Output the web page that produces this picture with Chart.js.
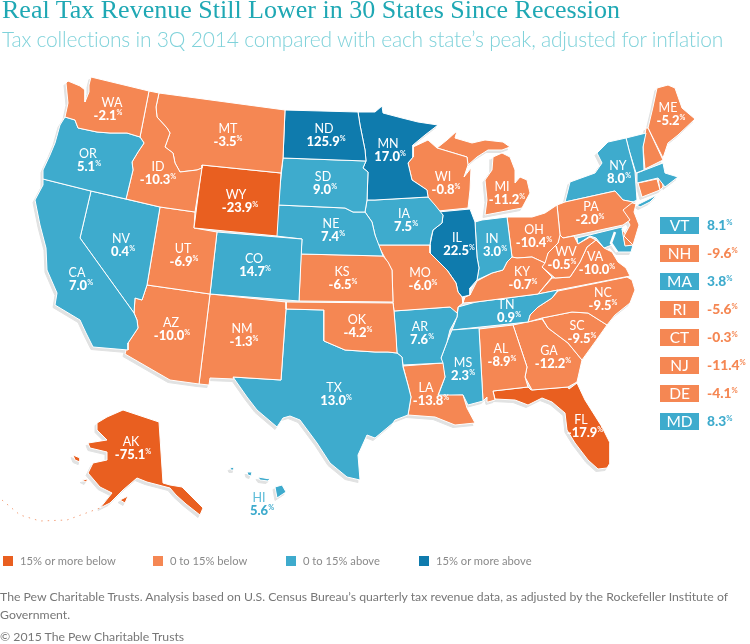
<!DOCTYPE html>
<html>
<head>
<meta charset="utf-8">
<script src="https://cdn.jsdelivr.net/npm/chart.js@4"></script>
<style>
    html, body { margin: 0; padding: 0; background: #fff; }
    #page { position: relative; width: 750px; height: 644px; overflow: hidden; }
    #map { position: absolute; left: 0; top: 0; }
    .txt { position: absolute; white-space: nowrap; font-family: Lato, sans-serif; }
    #title { left: 2px; top: -5px; font-family: "Liberation Serif", serif; font-size: 26px; color: #1fa8b4; }
    #subtitle { left: 2px; top: 26px; font-family: Lato, sans-serif; font-weight: 300; font-size: 21px; letter-spacing: -0.2px; color: #7fd2da; }
    .key { top: 554px; font-size: 11.2px; color: #8a8a8a; }
    .swatch { position: absolute; top: 556px; width: 10px; height: 10px; }
    .note { left: 0; font-size: 12.25px; color: #777; }
</style>
</head>
<body>
<div id="page">
    <canvas id="map" width="750" height="644"></canvas>
    <div class="txt" id="title">Real Tax Revenue Still Lower in 30 States Since Recession</div>
    <div class="txt" id="subtitle">Tax collections in 3Q 2014 compared with each state’s peak, adjusted for inflation</div>
    <div id="keys"></div>
    <div class="txt note" style="top:589px">The Pew Charitable Trusts. Analysis based on U.S. Census Bureau’s quarterly tax revenue data, as adjusted by the Rockefeller Institute of</div>
    <div class="txt note" style="top:607px">Government.</div>
    <div class="txt note" style="top:629px">© 2015 The Pew Charitable Trusts</div>
</div>
<script>
// ============================================================
// Data
// ============================================================
const stateCodes = ['WA','OR','CA','ID','NV','MT','WY','UT','AZ','CO','NM','ND','SD','NE','KS','OK','TX','MN','IA','MO','AR','LA','WI','IL','MS','MI','IN','KY','TN','AL','OH','WV','VA','NC','SC','GA','FL','PA','NY','ME','AK','HI'];
const stateValues = ['-2.1','5.1','7.0','-10.3','0.4','-3.5','-23.9','-6.9','-10.0','14.7','-1.3','125.9','9.0','7.4','-6.5','-4.2','13.0','17.0','7.5','-6.0','7.6','-13.8','-0.8','22.5','2.3','-11.2','3.0','-0.7','0.9','-8.9','-10.4','-0.5','-10.0','-9.5','-9.5','-12.2','-17.9','-2.0','8.0','-5.2','-75.1','5.6'];

const smallCodes = ['VT','NH','MA','RI','CT','NJ','DE','MD'];
const smallValues = ['8.1','-9.6','3.8','-5.6','-0.3','-11.4','-4.1','8.3'];

const keyLabels = ['15% or more below','0 to 15% below','0 to 15% above','15% or more above'];
const keyColors = ['#e95f20','#f58753','#3eabcd','#0f7bad'];

// where each state's code sits on the map
const labelSpots = {
    WA:[112,103], OR:[88,154], CA:[77,273], ID:[158,167], NV:[121,239], MT:[228,129], WY:[236,195], UT:[183,249],
    AZ:[171,323], CO:[254,259], NM:[242,329], ND:[324,129], SD:[323,177], NE:[331,224], KS:[342,272], OK:[357,320],
    TX:[334,388], MN:[388,144], IA:[404,214], MO:[420,273], AR:[420,327], LA:[426,388], WI:[443,177], IL:[457,238],
    MS:[463,363], MI:[502,187], IN:[492,239], KY:[522,272], TN:[506,305], AL:[501,349], OH:[534,230], WV:[566,252],
    VA:[595,257], NC:[603,293], SC:[577,326], GA:[549,351], FL:[581,420], PA:[591,207], NY:[618,166], ME:[668,108],
    AK:[131,442], HI:[259,498]
};
// value centre, along x
const valueSpotX = {
    WA:108, OR:89, CA:81, ID:158, NV:123, MT:228, WY:240, UT:184, AZ:172, CO:255, NM:244, ND:326, SD:325, NE:333, KS:343, OK:358,
    TX:336, MN:390, IA:406, MO:423, AR:422, LA:431, WI:446, IL:459, MS:463, MI:507, IN:495, KY:523, TN:509, AL:502, OH:534, WV:562,
    VA:597, NC:603, SC:582, GA:553, FL:585, PA:590, NY:619, ME:671, AK:133, HI:262
};

// state outlines, in map units
const WA = [[91,77],[149,91],[140,137],[127,133],[110,133],[97,132],[78,128],[75,120],[65,117],[68,103],[66,83],[68,81],[80,86],[85,90],[85,102],[89,92],[89,85]];
const OR = [[65,117],[75,120],[78,128],[97,132],[110,133],[127,133],[140,137],[144,143],[138,152],[132,162],[133,170],[126,199],[91,191],[43,179],[43,170],[50,155],[55,143],[60,125]];
const CA = [[43,179],[91,191],[80,238],[134,313],[137,320],[138,328],[128,343],[128,350],[93,347],[86,333],[80,320],[55,305],[57,293],[47,270],[46,248],[40,225],[35,200],[43,185]];
const ID = [[149,91],[159,93],[156,107],[157,117],[167,128],[170,133],[165,147],[173,153],[175,163],[180,172],[197,170],[202,168],[195,212],[160,207],[126,199],[133,170],[132,162],[138,152],[144,143],[140,137]];
const NV = [[91,191],[160,207],[147,285],[142,300],[135,298],[134,313],[80,238]];
const MT = [[159,93],[285,110],[283,158],[281,173],[202,165],[202,168],[197,170],[180,172],[175,163],[173,153],[165,147],[170,133],[167,128],[157,117],[156,107]];
const WY = [[202,165],[281,173],[277,236],[194,228]];
const UT = [[160,207],[195,212],[194,228],[217,232],[210,294],[147,285]];
const AZ = [[147,285],[210,294],[199,384],[170,380],[125,354],[128,343],[138,328],[137,320],[134,313],[135,298],[142,300]];
const CO = [[217,232],[302,239],[299,301],[210,294]];
const NM = [[210,294],[286,302],[286,309],[281,380],[233,377],[234,379],[210,378],[209,385],[199,384]];
const ND = [[285,110],[358,112],[360,125],[365,150],[366,161],[283,158]];
const SD = [[283,158],[366,161],[363,168],[368,172],[367,200],[365,212],[353,212],[345,208],[278,205]];
const NE = [[278,205],[345,208],[353,212],[365,212],[372,222],[375,235],[380,248],[383,256],[301,254],[302,239],[276,236]];
const KS = [[301,254],[383,256],[388,262],[392,270],[393,302],[299,301]];
const OK = [[286,302],[393,303],[394,311],[396,335],[397,353],[388,352],[375,352],[345,350],[324,341],[324,310],[286,309]];
const TX = [[286,309],[324,310],[324,341],[345,350],[375,352],[388,352],[397,353],[402,357],[403,367],[408,385],[411,397],[408,415],[395,420],[393,423],[375,438],[367,435],[358,455],[360,480],[347,477],[330,463],[317,443],[300,420],[290,416],[283,418],[277,427],[257,410],[247,397],[233,377],[281,380]];
const MN = [[358,112],[375,112],[382,106],[383,113],[402,118],[418,122],[438,125],[425,135],[413,145],[413,157],[408,163],[412,180],[427,190],[428,197],[375,200],[367,200],[368,172],[363,168],[366,161],[365,150],[360,125]];
const IA = [[367,200],[375,200],[428,197],[435,205],[443,215],[442,223],[433,230],[431,238],[430,245],[378,245],[375,235],[372,222],[365,212]];
const MO = [[378,245],[430,245],[430,253],[447,270],[456,283],[458,292],[462,297],[463,303],[458,307],[457,313],[450,307],[394,311],[393,302],[392,270],[385,258]];
const AR = [[394,311],[450,307],[458,308],[457,317],[450,330],[447,342],[441,358],[443,363],[403,365],[402,357],[397,353]];
const LA = [[403,366],[443,363],[445,377],[438,395],[463,395],[467,408],[475,423],[455,425],[435,417],[408,415],[411,397],[408,385]];
const WI = [[413,147],[428,140],[437,148],[467,157],[468,165],[464,177],[471,168],[470,190],[468,208],[438,211],[428,197],[427,190],[412,180],[408,163],[413,157]];
const IL = [[438,212],[470,209],[475,222],[477,257],[479,268],[477,280],[470,288],[470,295],[462,297],[458,292],[456,283],[447,270],[430,253],[430,245],[433,230],[442,223],[443,215]];
const MS = [[452,330],[479,328],[483,401],[468,405],[463,395],[438,396],[445,377],[441,358],[447,342]];
const MI_UPPER = [[437,148],[447,140],[457,131],[455,138],[472,143],[485,140],[503,142],[510,147],[502,150],[488,150],[477,157],[468,165],[467,157]];
const MI_LOWER = [[485,215],[522,208],[530,193],[527,180],[520,177],[515,183],[515,170],[510,157],[502,153],[493,157],[492,170],[485,180],[487,200]];
const IN = [[475,222],[482,220],[507,217],[512,257],[507,262],[503,270],[492,273],[477,280],[479,268],[477,257]];
const KY = [[470,295],[477,281],[492,273],[503,270],[507,262],[512,257],[517,258],[532,257],[545,263],[542,267],[552,277],[538,294],[476,302],[463,303],[465,297]];
const TN = [[458,307],[476,302],[538,294],[558,290],[552,298],[538,307],[530,315],[528,322],[452,330],[457,317]];
const AL = [[479,329],[513,325],[527,367],[525,377],[528,387],[493,391],[495,400],[488,402],[487,397],[483,401]];
const OH = [[507,217],[532,217],[545,213],[557,205],[560,235],[558,243],[548,253],[545,263],[532,257],[517,258],[512,257]];
const WV = [[558,243],[560,235],[563,238],[574,236],[578,244],[590,237],[596,240],[587,247],[580,262],[570,277],[555,278],[542,267],[548,253]];
const VA = [[596,240],[604,248],[612,252],[618,262],[626,268],[630,276],[558,290],[538,294],[552,278],[555,278],[570,277],[580,262],[587,247]];
const NC = [[558,291],[627,277],[632,280],[635,290],[630,303],[615,315],[607,325],[588,313],[572,312],[542,318],[528,322],[530,315],[538,307],[552,298]];
const SC = [[542,318],[572,312],[588,313],[607,325],[595,342],[582,360],[568,343],[548,328]];
const GA = [[513,325],[542,319],[548,328],[568,343],[582,360],[577,382],[568,387],[532,390],[525,377],[527,367]];
const FL = [[493,391],[528,387],[531,390],[568,387],[569,389],[577,383],[585,400],[602,427],[610,443],[610,463],[607,468],[598,469],[588,460],[575,443],[567,430],[565,413],[552,402],[542,398],[528,405],[515,400],[495,399]];
const PA = [[557,205],[565,202],[615,191],[623,200],[633,202],[623,210],[630,220],[623,225],[563,238],[560,235]];
const NY = [[565,202],[570,182],[595,173],[602,163],[597,153],[608,142],[626,138],[629,150],[635,172],[637,200],[633,202],[623,200],[615,191]];
const NY_ISLAND = [[637,205],[657,195],[650,202],[640,207]];
const VT = [[626,138],[646,133],[643,147],[644,170],[636,173],[629,150]];
const NH = [[646,128],[648,128],[663,160],[645,169],[643,147]];
const ME = [[648,128],[653,107],[657,88],[668,85],[675,88],[682,108],[695,119],[678,135],[668,143],[663,158]];
const MA = [[637,173],[663,163],[665,173],[678,177],[665,187],[658,178],[637,183]];
const CT = [[638,183],[657,179],[660,190],[642,197]];
const RI = [[658,178],[662,178],[663,187],[660,190]];
const NJ = [[623,200],[636,204],[634,212],[639,225],[633,245],[624,236],[630,225],[623,212]];
const DE = [[622,229],[633,245],[625,246]];
const MD = [[577,238],[622,227],[625,245],[633,245],[631,252],[618,252],[612,245],[604,248],[596,238],[590,236],[578,244]];
const AK = [[123,410],[159,422],[163,483],[170,485],[182,487],[203,508],[200,515],[186,504],[176,495],[170,488],[147,482],[137,478],[123,490],[110,503],[100,508],[112,493],[100,487],[88,473],[93,463],[107,460],[107,452],[90,448],[88,443],[107,440],[97,430],[97,423],[107,417]];
const AK_KODIAK = [[120,500],[128,496],[125,503]];
const AK_NUNIVAK = [[73,455],[80,458],[80,462],[75,460]];
const AK_UNIMAK = [[82,480],[88,479],[86,482]];
const AK_CHAIN = [[2,500],[20,515],[40,521],[67,520],[100,508]];
const HI_BIG = [[275,487],[282,485],[286,492],[277,498]];
const HI_MAUI = [[258,477],[270,479],[268,481],[260,480]];
const HI_OAHU = [[247,472],[252,472],[251,476],[248,475]];
const HI_KAUAI = [[230,468],[234,467],[234,470],[231,470]];
const BAY = [[615,232],[611,243],[617,252]];

const valueOf = {};
stateCodes.forEach((c, i) => { valueOf[c] = parseFloat(stateValues[i]); });
smallCodes.forEach((c, i) => { valueOf[c] = parseFloat(smallValues[i]); });

function colorFor(code) {
    const v = valueOf[code];
    if (v <= -15) return keyColors[0];
    if (v < 0) return keyColors[1];
    if (v < 15) return keyColors[2];
    return keyColors[3];
}

const shapes = [
    ['WA',WA],['OR',OR],['CA',CA],['ID',ID],['NV',NV],['MT',MT],['WY',WY],['UT',UT],['AZ',AZ],['CO',CO],['NM',NM],
    ['ND',ND],['SD',SD],['NE',NE],['KS',KS],['OK',OK],['TX',TX],['MN',MN],['IA',IA],['MO',MO],['AR',AR],['LA',LA],
    ['WI',WI],['IL',IL],['MS',MS],['MI',MI_UPPER],['MI',MI_LOWER],['IN',IN],['KY',KY],['TN',TN],['AL',AL],['OH',OH],
    ['WV',WV],['VA',VA],['NC',NC],['SC',SC],['GA',GA],['FL',FL],['PA',PA],['NY',NY],['NY',NY_ISLAND],['VT',VT],['NH',NH],
    ['ME',ME],['MA',MA],['CT',CT],['RI',RI],['NJ',NJ],['DE',DE],['MD',MD],
    ['AK',AK],['AK',AK_KODIAK],['AK',AK_NUNIVAK],['AK',AK_UNIMAK],['HI',HI_BIG],['HI',HI_MAUI],['HI',HI_OAHU],['HI',HI_KAUAI]
];

const toPoints = (arr, dx = 0, dy = 0) => arr.map(([x, y]) => ({ x: x + dx, y: y + dy }));
const closed = arr => arr.concat([arr[0]]);

function polygon(points, fillColor, lineColor, lineWidth) {
    return {
        data: points, showLine: true, fill: 'shape', tension: 0,
        backgroundColor: fillColor, borderColor: lineColor, borderWidth: lineWidth,
        pointRadius: 0, pointHoverRadius: 0, clip: false
    };
}

// first dataset ends up on top, so: cards, bay, states, then the drop shadow
const datasets = [];

smallCodes.forEach((code, i) => {
    const top = 217 + i * 28;
    const card = [[660, top], [699, top], [699, top + 17], [660, top + 17]];
    datasets.push(polygon(toPoints(closed(card)), colorFor(code), 'rgba(0,0,0,0)', 0));
});

datasets.push({ data: toPoints(BAY), showLine: true, fill: false, borderColor: '#fff', borderWidth: 2.5, pointRadius: 0, clip: false });
datasets.push({ data: toPoints(AK_CHAIN), showLine: true, fill: false, borderColor: '#f3a27d', borderWidth: 1, borderDash: [1.5, 5], pointRadius: 0, clip: false });

shapes.forEach(([code, outline]) => {
    datasets.push(polygon(toPoints(closed(outline)), colorFor(code), '#fff', 1));
});
shapes.forEach(([code, outline]) => {
    datasets.push(polygon(toPoints(closed(outline), -2, 2.5), '#e1e2e2', '#e1e2e2', 1));
});

// ============================================================
// Labels: state code above, bold value with a small % after it
// ============================================================
const FONT = 'Lato, sans-serif';

function drawValue(ctx, text, cx, cy, color, size, align) {
    ctx.fillStyle = color;
    ctx.textBaseline = 'middle';
    ctx.textAlign = 'left';
    ctx.font = `900 ${size}px ${FONT}`;
    const w = ctx.measureText(text).width;
    ctx.font = `700 ${size * 0.55}px ${FONT}`;
    const pw = ctx.measureText('%').width;
    const left = align === 'left' ? cx : cx - (w + pw) / 2;
    ctx.font = `900 ${size}px ${FONT}`;
    ctx.fillText(text, left, cy);
    ctx.font = `700 ${size * 0.55}px ${FONT}`;
    ctx.fillText('%', left + w, cy - size * 0.25);
}

const labelPlugin = {
    id: 'stateLabels',
    afterDatasetsDraw(chart) {
        const { ctx, scales: { x, y } } = chart;
        ctx.save();
        stateCodes.forEach((code, i) => {
            const px = x.getPixelForValue(labelSpots[code][0]);
            const py = y.getPixelForValue(labelSpots[code][1]);
            const isHawaii = code === 'HI';
            ctx.fillStyle = isHawaii ? '#5cbcd8' : '#fff';
            ctx.font = `400 12.5px ${FONT}`;
            ctx.textAlign = 'center';
            ctx.textBaseline = 'middle';
            ctx.fillText(code, px, py);
            drawValue(ctx, stateValues[i], x.getPixelForValue(valueSpotX[code]), py + 13, isHawaii ? '#3eabcd' : '#fff', 13);
        });
        smallCodes.forEach((code, i) => {
            const py = y.getPixelForValue(225.5 + i * 28);
            ctx.fillStyle = '#fff';
            ctx.font = `400 15.5px ${FONT}`;
            ctx.textAlign = 'center';
            ctx.textBaseline = 'middle';
            ctx.fillText(code, x.getPixelForValue(679.5), py);
            drawValue(ctx, smallValues[i], x.getPixelForValue(707), py, colorFor(code), 13.8, 'left');
        });
        ctx.restore();
    }
};

new Chart(document.getElementById('map'), {
    type: 'scatter',
    data: { datasets },
    options: {
        responsive: false,
        animation: false,
        events: [],
        layout: { padding: 0 },
        plugins: { legend: { display: false }, tooltip: { enabled: false }, title: { display: false } },
        scales: {
            x: { type: 'linear', min: 0, max: 750, display: false },
            y: { type: 'linear', min: 0, max: 644, reverse: true, display: false }
        }
    },
    plugins: [labelPlugin]
});

// ============================================================
// Colour key under the map
// ============================================================
const keySwatchX = [3, 153, 286, 419];
const keysEl = document.getElementById('keys');
keysEl.innerHTML = keyLabels.map((label, i) => `
    <div class="swatch" style="left:${keySwatchX[i]}px;background:${keyColors[i]}"></div>
    <div class="txt key" style="left:${keySwatchX[i] + 17}px">${label}</div>
`).join('');
</script>
</body>
</html>
